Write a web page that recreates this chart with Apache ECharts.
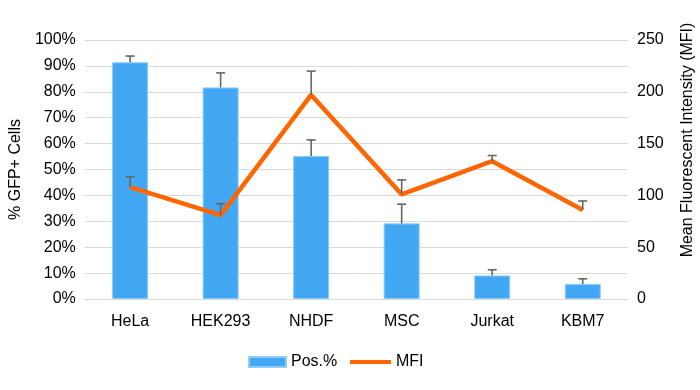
<!DOCTYPE html>
<html><head><meta charset="utf-8">
<script src="https://cdn.jsdelivr.net/npm/echarts@6/dist/echarts.min.js"></script>
<style>html,body{margin:0;padding:0;background:#fff}#c{width:700px;height:390px}</style>
</head><body><div id="c"></div>
<script>
const categories = ['HeLa', 'HEK293', 'NHDF', 'MSC', 'Jurkat', 'KBM7'];
const posPercent = [91.4, 81.7, 55.2, 29.2, 9.1, 5.8];
const posErr = [2.4, 5.6, 6.2, 7.4, 2.2, 2.0];
const mfi = [108, 81, 197, 101, 133, 86];
const mfiErr = [10, 11, 23, 14, 5.5, 8.6];
const leftTicks = { min: 0, max: 100, interval: 10 };
const rightTicks = { min: 0, max: 250, interval: 50 };

const FONT = 'Liberation Sans, Arial, sans-serif';
const errRender = function (params, api) {
  const i = api.value(0), v = api.value(1), e = api.value(2);
  const p0 = api.coord([i, v]);
  const p1 = api.coord([i, v + e]);
  const style = { stroke: '#666666', lineWidth: 1.6 };
  return { type: 'group', children: [
    { type: 'line', shape: { x1: p0[0], y1: p0[1], x2: p1[0], y2: p1[1] }, style: style },
    { type: 'line', shape: { x1: p1[0] - 4.5, y1: p1[1], x2: p1[0] + 4.5, y2: p1[1] }, style: style }
  ]};
};

const chart = echarts.init(document.getElementById('c'));
chart.setOption({
  animation: false,
  textStyle: { fontFamily: FONT },
  grid: { left: 80, right: 72, top: 40, bottom: 91, containLabel: false },
  legend: [
    {
      data: [{ name: 'Pos.%', icon: 'rect' }],
      left: 248, top: 354, padding: 0,
      itemWidth: 37, itemHeight: 10, itemGap: 10,
      textStyle: { fontSize: 16, color: '#000', fontFamily: FONT }
    },
    {
      data: [{ name: 'MFI', icon: 'rect' }],
      left: 350, top: 354, padding: 0,
      itemWidth: 41, itemHeight: 4, itemGap: 10,
      itemStyle: { color: '#FF6600' },
      textStyle: { fontSize: 16, color: '#000', fontFamily: FONT }
    }
  ],
  xAxis: {
    type: 'category', data: categories,
    axisTick: { show: false },
    axisLine: { lineStyle: { color: '#d9d9d9', width: 1 } },
    axisLabel: { fontSize: 16, color: '#000', margin: 15, fontFamily: FONT }
  },
  yAxis: [
    {
      type: 'value', min: leftTicks.min, max: leftTicks.max, interval: leftTicks.interval,
      name: '% GFP+ Cells', nameLocation: 'middle', nameGap: 59,
      nameTextStyle: { fontSize: 16, color: '#000', fontFamily: FONT },
      axisLabel: { formatter: '{value}%', fontSize: 16, color: '#000', margin: 9, fontFamily: FONT },
      splitLine: { lineStyle: { color: '#d9d9d9', width: 1 } },
      axisLine: { show: false }, axisTick: { show: false }
    },
    {
      type: 'value', min: rightTicks.min, max: rightTicks.max, interval: rightTicks.interval,
      position: 'right',
      axisLabel: { fontSize: 16, color: '#000', margin: 9, fontFamily: FONT },
      splitLine: { show: false }, axisLine: { show: false }, axisTick: { show: false }
    }
  ],
  graphic: [{
    type: 'text', x: 688, y: 140, rotation: Math.PI / 2,
    style: { text: 'Mean Fluorescent Intensity (MFI)', font: '16px ' + FONT, fill: '#000',
      textAlign: 'center', textVerticalAlign: 'middle' }
  }],
  series: [
    {
      name: 'Pos.%', type: 'bar', data: posPercent, barWidth: 36, yAxisIndex: 0,
      itemStyle: { color: '#42A8F4', borderColor: '#8ECDF9', borderWidth: 1 }, z: 2
    },
    {
      name: 'MFI', type: 'line', data: mfi, yAxisIndex: 1, showSymbol: false, symbol: 'none',
      lineStyle: { color: '#FF6600', width: 4.5 }, itemStyle: { color: '#FF6600' }, z: 3
    },
    {
      name: 'posErr', type: 'custom', yAxisIndex: 0, renderItem: errRender,
      encode: { x: 0, y: [1, 2] }, z: 4,
      data: posPercent.map((v, i) => [i, v, posErr[i]])
    },
    {
      name: 'mfiErr', type: 'custom', yAxisIndex: 1, renderItem: errRender,
      encode: { x: 0, y: [1, 2] }, z: 4,
      data: mfi.map((v, i) => [i, v, mfiErr[i]])
    }
  ]
});
</script></body></html>
